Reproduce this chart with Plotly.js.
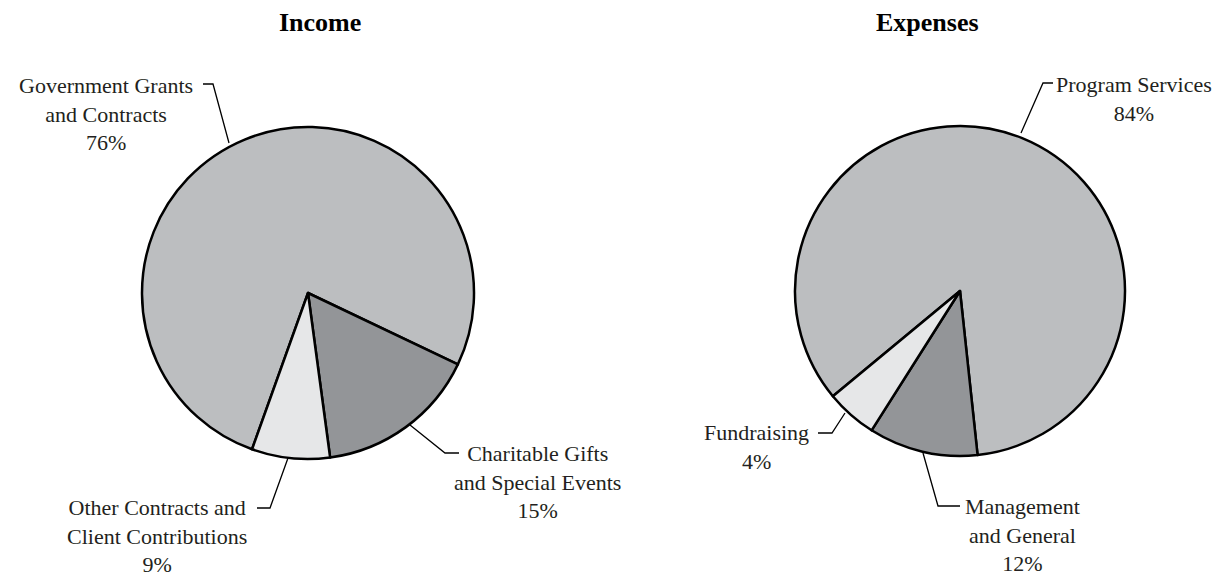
<!DOCTYPE html>
<html>
<head>
<meta charset="utf-8">
<script src="https://cdn.plot.ly/plotly-3.0.1.min.js"></script>
<style>html,body{margin:0;padding:0;background:#fff;}#chart{width:1217px;height:577px;}</style>
</head>
<body>
<div id="chart"></div>
<script>
// ---- data ----
const incomeLabels = ['Government Grants<br>and Contracts', 'Charitable Gifts<br>and Special Events', 'Other Contracts and<br>Client Contributions'];
const incomeValues = [76.6, 15.8, 7.6];          // slice sizes as drawn
const incomePctText = ['76%', '15%', '9%'];      // printed percentages
const expenseLabels = ['Program Services', 'Management<br>and General', 'Fundraising'];
const expenseValues = [84.3, 10.7, 5.0];         // slice sizes as drawn
const expensePctText = ['84%', '12%', '4%'];     // printed percentages
const sliceColors = ['#bcbec0', '#939598', '#e6e7e8'];

// ---- layout helpers ----
const W = 1217, H = 577;
const px = x => x / W;
const py = y => 1 - y / H;
const FONT = 'Liberation Serif, Times New Roman, serif';
const TXT = '#231f20';

function domainFor(cx, cy, r) {
  return { x: [px(cx - r), px(cx + r)], y: [py(cy + r), py(cy - r)] };
}

const traces = [
  {
    type: 'pie', labels: incomeLabels, values: incomeValues, sort: false,
    direction: 'clockwise', rotation: 199.7, textinfo: 'none', hoverinfo: 'label+percent',
    marker: { colors: sliceColors, line: { color: '#000', width: 2.5 } },
    domain: domainFor(308, 293, 166), showlegend: false
  },
  {
    type: 'pie', labels: expenseLabels, values: expenseValues, sort: false,
    direction: 'clockwise', rotation: 230.4, textinfo: 'none', hoverinfo: 'label+percent',
    marker: { colors: sliceColors, line: { color: '#000', width: 2.5 } },
    domain: domainFor(960, 291, 165), showlegend: false
  }
];

// label placement (pixel positions of label block centres) and leader lines
const incomeLabelPos = [[106, 114], [537, 482], [157, 536]];
const incomeLeaders = [
  [[229, 143], [213, 84], [203, 84]],
  [[410, 425], [445, 453], [459, 453]],
  [[288, 458], [270, 508], [257, 508]]
];
const expenseLabelPos = [[1134, 99], [1022, 535], [756, 447]];
const expenseLeaders = [
  [[1021, 133], [1043, 83], [1053, 83]],
  [[923, 453], [938, 506], [960, 506]],
  [[845, 413], [832, 433], [818, 433]]
];

const annotations = [];
const shapes = [];

function addLabels(labels, pct, pos, leaders) {
  labels.forEach((lab, i) => {
    annotations.push({
      xref: 'paper', yref: 'paper', x: px(pos[i][0]), y: py(pos[i][1]),
      xanchor: 'center', yanchor: 'middle', align: 'center', showarrow: false,
      text: lab + '<br>' + pct[i],
      font: { family: FONT, size: 22, color: TXT }
    });
    const pts = leaders[i];
    let d = 'M ' + px(pts[0][0]) + ' ' + py(pts[0][1]);
    for (let k = 1; k < pts.length; k++) d += ' L ' + px(pts[k][0]) + ' ' + py(pts[k][1]);
    shapes.push({ type: 'path', xref: 'paper', yref: 'paper', path: d, line: { color: '#000', width: 1.3 } });
  });
}
addLabels(incomeLabels, incomePctText, incomeLabelPos, incomeLeaders);
addLabels(expenseLabels, expensePctText, expenseLabelPos, expenseLeaders);

// titles
annotations.push({ xref: 'paper', yref: 'paper', x: px(320), y: py(23), xanchor: 'center', yanchor: 'middle',
  showarrow: false, text: '<b>Income</b>', font: { family: FONT, size: 26, color: '#000' } });
annotations.push({ xref: 'paper', yref: 'paper', x: px(928), y: py(23), xanchor: 'center', yanchor: 'middle',
  showarrow: false, text: '<b>Expenses</b>', font: { family: FONT, size: 26, color: '#000' } });

const layout = {
  width: W, height: H,
  margin: { l: 0, r: 0, t: 0, b: 0 },
  paper_bgcolor: '#fff', plot_bgcolor: '#fff',
  showlegend: false,
  annotations: annotations,
  shapes: shapes
};

Plotly.newPlot('chart', traces, layout, { displayModeBar: false, staticPlot: true });
</script>
</body>
</html>
